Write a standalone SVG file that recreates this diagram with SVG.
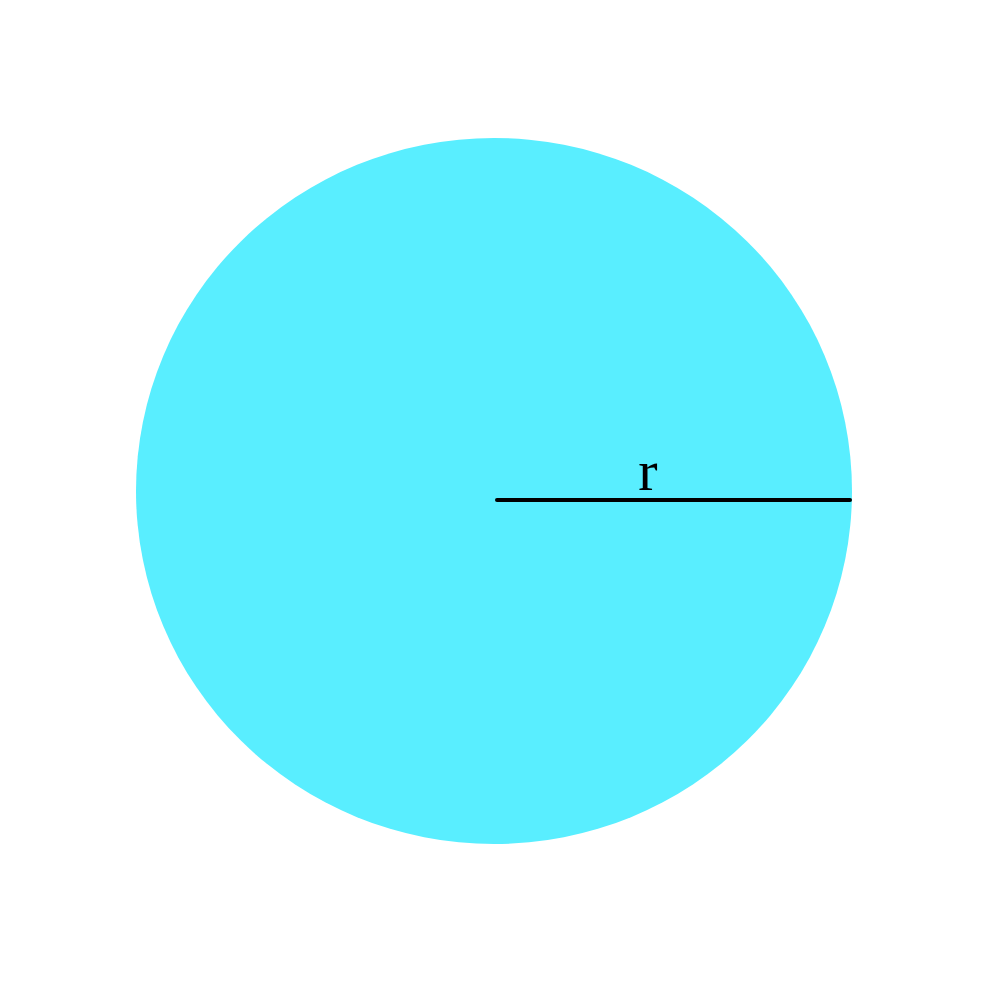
<svg xmlns="http://www.w3.org/2000/svg" width="1000" height="1000" viewBox="0 0 1000 1000">
<style>
.lbl{font-family:"Liberation Serif","Times New Roman",serif;font-size:58px;fill:#000}
</style>
<rect width="1000" height="1000" fill="#fff"/>
<g id="circle">
<ellipse cx="494" cy="491" rx="358" ry="353" fill="#59eeff"/>
</g>
<g id="connectors">
<line x1="497" y1="500" x2="850" y2="500" stroke="#000" stroke-width="4" stroke-linecap="round"/>
</g>
<g id="label">
<text class="lbl" x="648" y="490" text-anchor="middle">r</text>
</g>
</svg>
